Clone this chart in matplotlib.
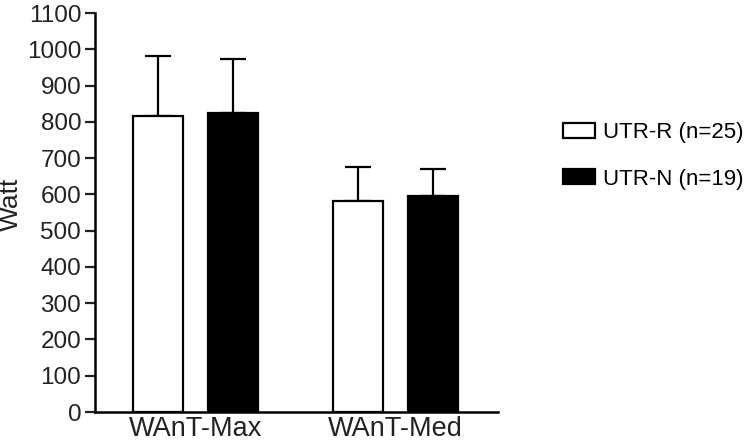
import matplotlib.pyplot as plt
import numpy as np

plt.rcParams['font.family'] = ['Liberation Sans', 'DejaVu Sans']

groups = ['WAnT-Max', 'WAnT-Med']
series = ['UTR-R (n=25)', 'UTR-N (n=19)']
utr_r = [816, 582]
utr_r_sd = [165, 93]
utr_n = [824, 596]
utr_n_sd = [149, 74]
yticks = list(range(0, 1101, 100))

fig = plt.figure(figsize=(7.5, 4.44), dpi=100)
ax = fig.add_axes([0.1267, 0.072, 0.664 - 0.1267, 0.9707 - 0.072])

x = np.arange(len(groups))
w = 0.25
off = 0.1875
ekw = dict(elinewidth=1.6, capthick=1.6, capsize=9.5, ecolor='black')
ax.bar(x - off, utr_r, w, color='white', edgecolor='black', linewidth=1.6,
       label=series[0], zorder=2)
ax.errorbar(x - off, utr_r, yerr=[np.zeros(2), utr_r_sd], fmt='none', zorder=1, **ekw)
ax.bar(x + off, utr_n, w, color='black', edgecolor='black', linewidth=1.6,
       label=series[1], zorder=2)
ax.errorbar(x + off, utr_n, yerr=[np.zeros(2), utr_n_sd], fmt='none', zorder=1, **ekw)

ax.set_xlim(-0.5, 1.51)
ax.set_ylim(0, 1100)
ax.set_yticks(yticks)
ax.set_xticks(x)
ax.set_xticklabels(groups, fontsize=19.5, color='#222222')
ax.tick_params(axis='y', labelsize=17.5, length=7, width=1.6, colors='#222222', pad=3)
ax.tick_params(axis='x', length=0, pad=3)
ax.set_ylabel('Watt', fontsize=19, color='#222222')
ax.yaxis.set_label_coords(-0.178, 0.52)
for s in ['top', 'right']:
    ax.spines[s].set_visible(False)
for s in ['left', 'bottom']:
    ax.spines[s].set_linewidth(1.8)

fig.legend(loc='upper left', bbox_to_anchor=(563 / 750, 1 - 122 / 444),
           frameon=False, fontsize=16, handlelength=1.44, handleheight=0.68,
           handletextpad=0.35, labelspacing=1.15, borderpad=0, borderaxespad=0)

plt.savefig('out.png', dpi=100)
